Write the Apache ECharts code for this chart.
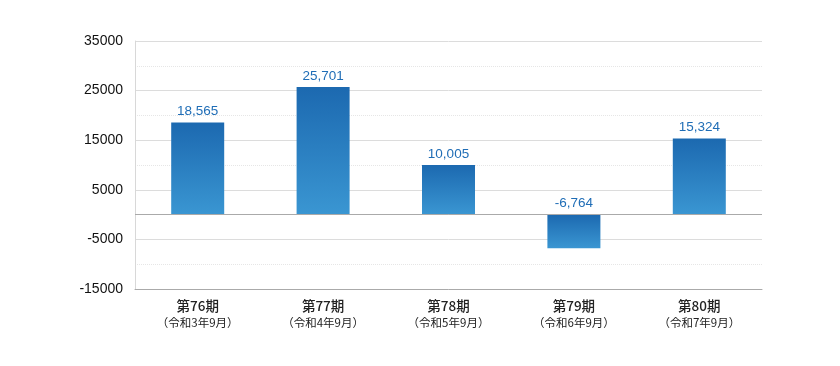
<!DOCTYPE html>
<html><head><meta charset="utf-8">
<script src="https://cdn.jsdelivr.net/npm/echarts@6/dist/echarts.min.js"></script>
<style>html,body{margin:0;padding:0;background:#fff}#c{width:840px;height:366px}</style>
</head><body><div id="c"></div>
<script>
const periods = ['第76期','第77期','第78期','第79期','第80期'];
const dates = ['（令和3年9月）','（令和4年9月）','（令和5年9月）','（令和6年9月）','（令和7年9月）'];
const values = [18565, 25701, 10005, -6764, 15324];
const yMin = -15000, yMax = 35000, yStep = 10000;

const chart = echarts.init(document.getElementById('c'));
chart.setOption({
  animation: false,
  grid: {left: 135, right: 78, top: 41, bottom: 77},
  xAxis: {
    type: 'category',
    data: periods.map((p, i) => p + '\n' + dates[i]),
    axisLine: {onZero: false, lineStyle: {color: '#aaaaaa'}},
    axisTick: {show: false},
    axisLabel: {
      interval: 0,
      margin: 8,
      formatter: v => { const [a, b] = v.split('\n'); return '{a|' + a + '}\n{b|' + b + '}'; },
      rich: {
        a: {fontFamily: 'Noto Sans CJK JP', fontSize: 13.5, color: '#222', lineHeight: 18, fontWeight: 500},
        b: {fontFamily: 'Noto Sans CJK JP', fontSize: 11.5, color: '#222', lineHeight: 16}
      }
    }
  },
  yAxis: {
    type: 'value', min: yMin, max: yMax, interval: yStep,
    axisLine: {show: true, lineStyle: {color: '#d8d8d8'}},
    axisTick: {show: false},
    axisLabel: {color: '#111', fontSize: 14, fontFamily: 'Liberation Sans', margin: 12,
      padding: [6, 0, 0, 0],
      formatter: v => String(v)},
    splitLine: {lineStyle: {color: '#dcdcdc', width: 1}},
    minorTick: {show: false, splitNumber: 2},
    minorSplitLine: {show: true, lineStyle: {color: '#e6e6e6', type: 'dotted'}}
  },
  series: [{
    type: 'bar',
    data: values,
    barWidth: 53,
    itemStyle: {
      color: new echarts.graphic.LinearGradient(0, 0, 0, 1, [
        {offset: 0, color: '#1c69b0'},
        {offset: 1, color: '#3a96d2'}
      ])
    },
    label: {
      show: true, position: 'top', distance: 4,
      color: '#1f6db6', fontSize: 13.5, fontFamily: 'Liberation Sans',
      formatter: p => p.value.toLocaleString('en-US')
    },
    markLine: {
      silent: true, symbol: 'none', label: {show: false},
      lineStyle: {color: '#aaaaaa', type: 'solid', width: 1},
      data: [{yAxis: 0}]
    }
  }]
});
</script></body></html>
